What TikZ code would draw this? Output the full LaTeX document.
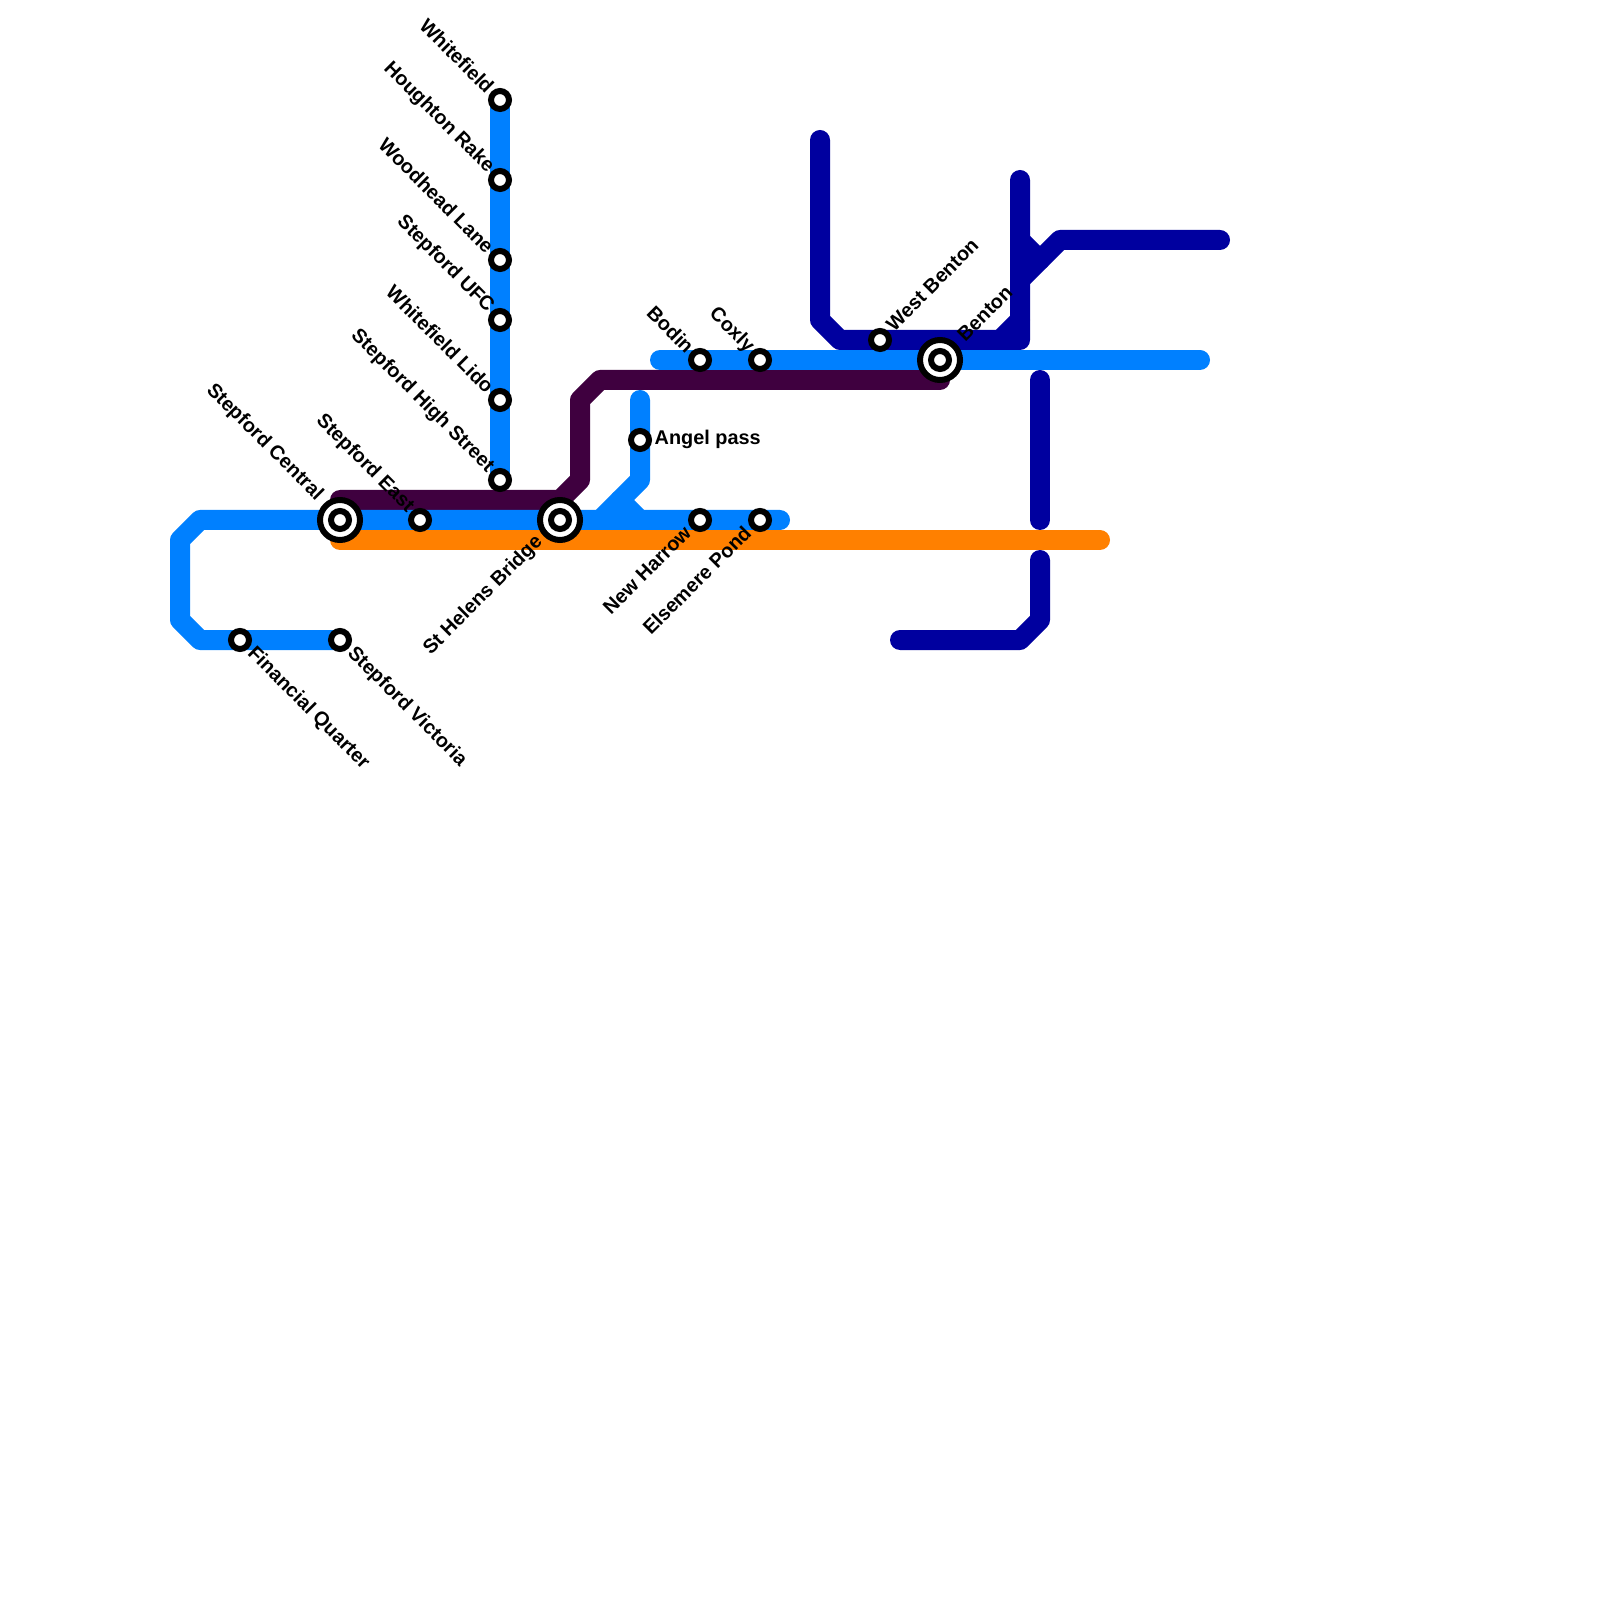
\documentclass[tikz,border=0pt]{standalone}
\usepackage{fontspec}
\setmainfont{Liberation Sans}
\usepackage{xcolor}
\definecolor{lineblue}{HTML}{0080FF}
\definecolor{linenavy}{HTML}{00009F}
\definecolor{lineplum}{HTML}{3F003F}
\definecolor{lineorange}{HTML}{FF8000}
\tikzset{
  metroline/.style={line width=2mm,line cap=round,line join=round},
  stationdot/.style={circle,draw=black,fill=white,line width=0.6mm,minimum size=1.8mm,inner sep=0pt},
  hubring/.style={circle,draw=black,fill=white,line width=0.6mm,minimum size=4mm,inner sep=0pt},
  stationname/.style={inner sep=0pt,font=\fontsize{5.65}{7}\selectfont\bfseries},
  namedown/.style={stationname,anchor=west,rotate=-45},
  nameup/.style={stationname,anchor=east,rotate=-45},
  namesw/.style={stationname,anchor=east,rotate=45},
  namene/.style={stationname,anchor=west,rotate=45}
}

\begin{document}
\begin{tikzpicture}[x=1cm,y=1cm]
  \fill[white] (0,0) rectangle (16,-16);
  % stops
  \coordinate (whitefield) at (5,-1);
  \coordinate (houghton) at (5,-1.8);
  \coordinate (woodhead) at (5,-2.6);
  \coordinate (ufc) at (5,-3.2);
  \coordinate (lido) at (5,-4);
  \coordinate (highstreet) at (5,-4.8);
  \coordinate (central) at (3.4,-5.2);
  \coordinate (east) at (4.2,-5.2);
  \coordinate (helens) at (5.6,-5.2);
  \coordinate (harrow) at (7,-5.2);
  \coordinate (elsemere) at (7.6,-5.2);
  \coordinate (angel) at (6.4,-4.4);
  \coordinate (bodin) at (7,-3.6);
  \coordinate (coxly) at (7.6,-3.6);
  \coordinate (westbenton) at (8.8,-3.4);
  \coordinate (benton) at (9.4,-3.6);
  \coordinate (financial) at (2.4,-6.4);
  \coordinate (victoria) at (3.4,-6.4);
  % lines
  \draw[metroline,lineplum] (3.4,-5) -- (5.6,-5) -- (5.8,-4.8) -- (5.8,-4) -- (6,-3.8) -- (9.4,-3.8);
  \draw[metroline,lineorange] (3.4,-5.4) -- (11,-5.4);
  \draw[metroline,linenavy] (8.2,-1.4) -- (8.2,-3.2) -- (8.4,-3.4) -- (10.2,-3.4) -- (10.2,-1.8);
  \draw[metroline,linenavy] (10,-3.4) -- (10.2,-3.2);
  \draw[metroline,linenavy] (12.2,-2.4) -- (10.6,-2.4) -- (10.2,-2.8);
  \draw[metroline,linenavy] (10.2,-2.4) -- (10.4,-2.6);
  \draw[metroline,linenavy] (10.4,-3.8) -- (10.4,-5.2);
  \draw[metroline,linenavy] (10.4,-5.6) -- (10.4,-6.2) -- (10.2,-6.4) -- (9,-6.4);
  \draw[metroline,lineblue] (whitefield) -- (highstreet);
  \draw[metroline,lineblue] (victoria) -- (2,-6.4) -- (1.8,-6.2) -- (1.8,-5.4) -- (2,-5.2) -- (7.8,-5.2);
  \draw[metroline,lineblue] (6,-5.2) -- (6.4,-4.8) -- (6.4,-4);
  \draw[metroline,lineblue] (6.2,-5) -- (6.4,-5.2);
  \draw[metroline,lineblue] (6.6,-3.6) -- (12,-3.6);
  % stations
  \node[stationdot] (whitefieldstop) at (whitefield) {};
  \node[stationdot] (houghtonstop) at (houghton) {};
  \node[stationdot] (woodheadstop) at (woodhead) {};
  \node[stationdot] (ufcstop) at (ufc) {};
  \node[stationdot] (lidostop) at (lido) {};
  \node[stationdot] (highstreetstop) at (highstreet) {};
  \node[stationdot] (eaststop) at (east) {};
  \node[stationdot] (harrowstop) at (harrow) {};
  \node[stationdot] (elsemerestop) at (elsemere) {};
  \node[stationdot] (angelstop) at (angel) {};
  \node[stationdot] (bodinstop) at (bodin) {};
  \node[stationdot] (coxlystop) at (coxly) {};
  \node[stationdot] (westbentonstop) at (westbenton) {};
  \node[stationdot] (financialstop) at (financial) {};
  \node[stationdot] (victoriastop) at (victoria) {};
  \node[hubring] (centralring) at (central) {};
  \node[stationdot] (centralstop) at (central) {};
  \node[hubring] (helensring) at (helens) {};
  \node[stationdot] (helensstop) at (helens) {};
  \node[hubring] (bentonring) at (benton) {};
  \node[stationdot] (bentonstop) at (benton) {};
  % names
  \node[nameup] (whitefieldname) at ([xshift=-0.9mm,yshift=1mm]whitefield) {Whitefield};
  \node[nameup] (houghtonname) at ([xshift=-0.9mm,yshift=1mm]houghton) {Houghton Rake};
  \node[nameup] (woodheadname) at ([xshift=-0.9mm,yshift=1mm]woodhead) {Woodhead Lane};
  \node[nameup] (ufcname) at ([xshift=-0.9mm,yshift=1mm]ufc) {Stepford UFC};
  \node[nameup] (lidoname) at ([xshift=-0.9mm,yshift=1mm]lido) {Whitefield Lido};
  \node[nameup] (highstreetname) at ([xshift=-0.9mm,yshift=1mm]highstreet) {Stepford High Street};
  \node[nameup] (eastname) at ([xshift=-0.9mm,yshift=1mm]east) {Stepford East};
  \node[nameup] (centralname) at ([xshift=-2mm,yshift=2.2mm]central) {Stepford Central};
  \node[nameup] (bodinname) at ([xshift=-0.9mm,yshift=1mm]bodin) {Bodin};
  \node[nameup] (coxlyname) at ([xshift=-0.9mm,yshift=1mm]coxly) {Coxly};
  \node[namedown] (financialname) at ([xshift=1mm,yshift=-1mm]financial) {Financial Quarter};
  \node[namedown] (victorianame) at ([xshift=1mm,yshift=-1mm]victoria) {Stepford Victoria};
  \node[namesw] (helensname) at ([xshift=-2mm,yshift=-1.9mm]helens) {St Helens Bridge};
  \node[namesw] (harrowname) at ([xshift=-1.2mm,yshift=-0.9mm]harrow) {New Harrow};
  \node[namesw] (elsemerename) at ([xshift=-1.2mm,yshift=-0.9mm]elsemere) {Elsemere Pond};
  \node[namene] (westbentonname) at ([xshift=0.9mm,yshift=1.2mm]westbenton) {West Benton};
  \node[namene] (bentonname) at ([xshift=2mm,yshift=2.2mm]benton) {Benton};
  \node[stationname,anchor=west] (angelname) at ([xshift=1.4mm,yshift=0.1mm]angel) {Angel pass};
\end{tikzpicture}
\end{document}
